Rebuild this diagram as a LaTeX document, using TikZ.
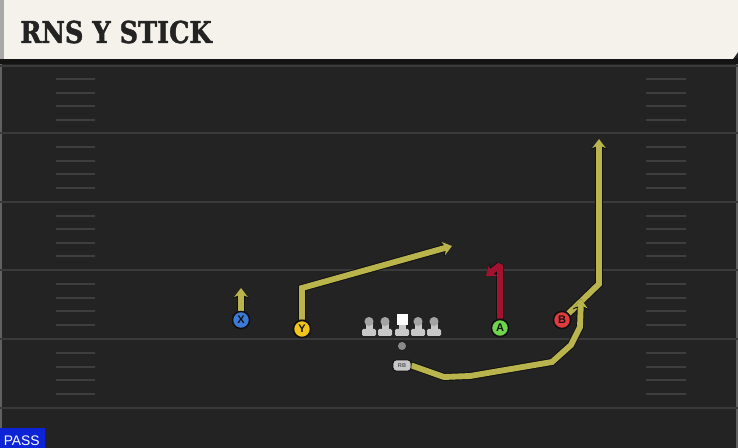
\documentclass[tikz,border=0pt]{standalone}
\usepackage{fontspec}
\setmainfont{Liberation Sans}
\IfFontExistsTF{DejaVu Serif}
  {\newfontfamily\titlefont{DejaVu Serif}[BoldFont={DejaVu Serif Bold},BoldFeatures={FakeBold=1.6}]\def\titlescale{0.85}}
  {\newfontfamily\titlefont{DejaVu Sans}\def\titlescale{0.85}}
\usetikzlibrary{arrows.meta}
\definecolor{fieldbg}{HTML}{232323}
\definecolor{yardline}{HTML}{3A3A3A}
\definecolor{hashc}{HTML}{3E3E3E}
\definecolor{cream}{HTML}{F4F2EB}
\definecolor{strip}{HTML}{A8A8A8}
\definecolor{shadowc}{HTML}{141414}
\definecolor{routey}{HTML}{B9B54C}
\definecolor{router}{HTML}{A3122F}
\definecolor{outl}{HTML}{111111}
\definecolor{xblue}{HTML}{3C7AD6}
\definecolor{yyel}{HTML}{F2C51A}
\definecolor{agreen}{HTML}{6FD44C}
\definecolor{bred}{HTML}{E23B3E}
\definecolor{linec}{HTML}{C8C8C8}
\definecolor{headc}{HTML}{A4A4A4}
\definecolor{passblue}{HTML}{0C24D6}
\definecolor{titletext}{HTML}{232323}
\definecolor{qbgray}{HTML}{8A8A8A}
\definecolor{rbtext}{HTML}{555555}
\tikzset{
  player/.style={circle, draw=outl, line width=1.1pt, minimum size=12.8pt, inner sep=0pt,
    font=\fontsize{8.3pt}{9pt}\selectfont\bfseries, text=outl},
  rbtag/.style={draw=outl, line width=0.7pt, fill=linec, rounded corners=2.5pt, minimum width=13.5pt,
    minimum height=8.5pt, inner sep=0pt, text=rbtext, font=\fontsize{4.2pt}{5pt}\selectfont\bfseries},
  routebase/.style={line width=4.4pt, line join=miter, line cap=butt,
    preaction={draw=outl, line width=5.8pt, line join=miter, -{Stealth[length=8pt,width=11.8pt,inset=2.6pt]}},
    -{Stealth[length=6.8pt,width=10.2pt,inset=2.2pt]}},
  yroute/.style={routebase, draw=routey},
  rroute/.style={line width=4.4pt, line join=bevel, line cap=butt, draw=router,
    preaction={draw=outl, line width=5.8pt, line join=bevel, -{Stealth[length=8pt,width=11.8pt,inset=2.6pt]}},
    -{Stealth[length=6.8pt,width=10.2pt,inset=2.2pt]}},
  hashmark/.style={draw=hashc, line width=1.5pt},
  majorline/.style={draw=yardline, line width=1.6pt},
  lineman/.pic={
    \fill[linec] (-3.5,0) rectangle (3.5,8);
    \fill[linec, rounded corners=1pt] (-7,7.5) rectangle (7,14.5);
    \fill[headc] (0,0) circle (3.4pt);
  },
  centerman/.pic={
    \fill[linec] (-3.5,0) rectangle (3.5,8);
    \fill[linec, rounded corners=1pt] (-7,7.5) rectangle (7,14.5);
    \fill[white] (-5.5,-7.5) rectangle (5.5,3.5);
  }
}
\begin{document}
\begin{tikzpicture}[x=0.75pt,y=-0.75pt]
\useasboundingbox (0,0) rectangle (738,448);
% field
\fill[fieldbg] (0,0) rectangle (738,448);
\draw[draw=yardline!80, line width=1pt] (1,60) -- (1,448);
\draw[draw=yardline!80, line width=1pt] (737,60) -- (737,448);
% yard lines and hashes
\foreach \m in {66,133,202,270,339,408} {
  \draw[majorline] (0,\m) -- (738,\m);
}
\foreach \m/\s in {66/13.4,133/13.8,202/13.6,270/13.8,339/13.8} {
  \foreach \k in {1,2,3,4} {
    \draw[hashmark] (56,\m+\k*\s) -- (95,\m+\k*\s);
    \draw[hashmark] (646,\m+\k*\s) -- (686,\m+\k*\s);
  }
}
% header
\fill[shadowc] (0,58) rectangle (738,64);
\fill[cream] (3,0) -- (738,0) -- (738,52) -- (733,59) -- (3,59) -- cycle;
\fill[strip] (0,0) rectangle (4,59);
\node[anchor=base west, inner sep=0pt, text=titletext] (title) at (20,43)
  {\scalebox{\titlescale}[1]{\titlefont\bfseries\fontsize{22.6pt}{24pt}\selectfont RNS Y STICK}};
% PASS label
\fill[passblue] (0,428) rectangle (45,448);
\node[anchor=base west, inner sep=0pt, text=white,
  font=\fontsize{10.4pt}{11pt}\selectfont] (pass) at (3.5,445.5) {PASS};
% offensive line
\foreach \x in {369,385,418,434} { \pic at (\x,321.5) {lineman}; }
\pic at (402,321.5) {centerman};
\node[circle, fill=qbgray, minimum size=6pt, inner sep=0pt] (QB) at (402,346) {};
% RB
\node[rbtag] (RB) at (402,365.5) {RB};
% players
\node[player, fill=xblue] (X) at (241,320) {X};
\node[player, fill=yyel] (Y) at (302,329) {Y};
\node[player, fill=agreen] (A) at (500,328) {A};
\node[player, fill=bred] (B) at (562,320) {B};
% route coordinates
\coordinate (xtip) at (241,288);
\coordinate (ybend) at (302,288);
\coordinate (ytip) at (452,246);
\coordinate (abend) at (500,265);
\coordinate (atip) at (486,276);
\coordinate (bbend) at (599,284);
\coordinate (btip) at (599,139);
\coordinate (r1) at (444,377);
\coordinate (r2) at (470,376);
\coordinate (r3) at (552,362);
\coordinate (r4) at (571,345);
\coordinate (r5) at (580,327);
\coordinate (rtip) at (581,299);
% routes
\draw[yroute] (X.north) -- (xtip);
\draw[yroute] (Y.north) -- (ybend) -- (ytip);
\draw[rroute] (A.north) -- (abend) -- (atip);
\draw[yroute] (B.north east) -- (bbend) -- (btip);
\draw[yroute] (RB.east) -- (r1) -- (r2) -- (r3) -- (r4) -- (r5) -- (rtip);
% redraw players on top of route starts
\node[player, fill=xblue] at (X) {X};
\node[player, fill=yyel] at (Y) {Y};
\node[player, fill=agreen] at (A) {A};
\node[player, fill=bred] at (B) {B};
\node[rbtag] at (RB) {RB};
\end{tikzpicture}
\end{document}
